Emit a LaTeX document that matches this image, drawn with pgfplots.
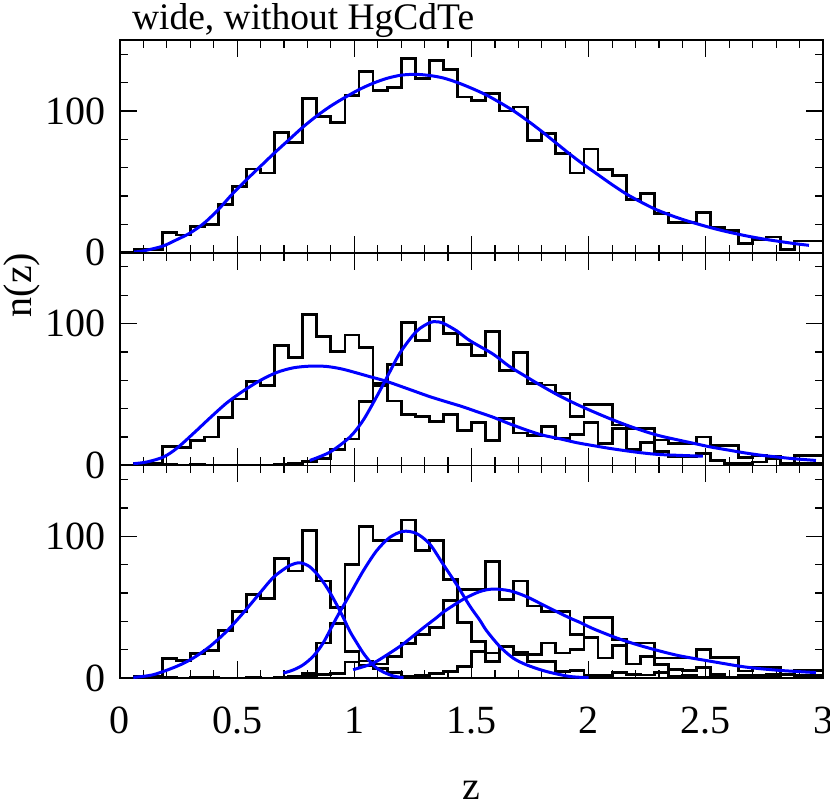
\documentclass[border=0pt]{standalone}
\usepackage{fontspec}
\setmainfont{Liberation Serif}
\usepackage{pgfplots}
\usepackage{pgfplotstable}
\pgfplotsset{compat=1.18}
\usepgfplotslibrary{groupplots}

% histogram counts, left bin edges (bin width 0.06)
% T = all, A/B = two bins, L/M/H = three bins
\pgfplotstableread{
x    T     A     B     L     M     H
0.00 0     0     0     0     0     0
0.06 2     1.5   0.5   1.5   0.3   0.2
0.12 2     1.5   0.5   1.5   0.3   0.2
0.18 14    13.5  0.5   13.7  0.3   0
0.24 12.5  12.5  0     12.5  0     0
0.30 18.4  17.7  0.7   17.2  0.8   0.4
0.36 20    20    0     19.6  0.4   0
0.42 33.8  33.8  0     33.8  0     0
0.48 46.8  46.8  0     46.8  0     0
0.54 59    59    0     58.8  0.2   0
0.60 56.2  56.2  0     56.2  0     0
0.66 85    84.5  0.5   84.5  0.5   0
0.72 77.5  76.3  1.2   75.6  1.4   0.5
0.78 109   106.3 2.7   104   3.5   1.5
0.84 96    91    5     68.5  24.8  2.7
0.90 91.7  80.3  11.4  50    38.5  3.2
0.96 110.6 92    18.6  18.9  80.3  11.4
1.02 127.8 83    44.8  12    106.8 9
1.08 114.3 57.9  56.4  7     97.3  10
1.14 116.5 45.4  71.1  4     97.3  15.2
1.20 137   36.1  100.9 1     111.5 24.5
1.26 122.6 34.3  88.3  2     89.8  30.8
1.32 135.8 31.2  104.6 3     96.9  35.9
1.38 129.2 36.1  93.1  4.7   69.7  54.8
1.44 109.8 24.8  85    8.2   39    62.6
1.50 107.5 30    77.5  18.9  26    62.6
1.56 112   17.7  94.3  11.8  17.7  82.5
1.62 100   33    67    22    22.4  55.6
1.68 102.8 22.9  79.9  17.8  16.5  68.5
1.74 79    21.3  57.7  11.7  16.5  50.8
1.80 83.9  27.2  56.7  11.9  24.8  47.2
1.86 69.7  18.9  50.8  4.8   17.7  47.2
1.92 56.2  21.7  34.5  5.5   20    30.7
1.98 73.2  30.2  43    1.9   28.8  42.5
2.04 58.6  15.4  43.2  1.9   14.2  42.5
2.10 54.3  25.8  28.5  4     23    27.3
2.16 37.3  11.3  26    2.5   10    24.8
2.22 42    16    26    2.2   15    24.8
2.28 27.9  10    17.9  4     9.7   14.2
2.34 21.3  5.9   15.4  1.2   5.9   14.2
2.40 21.3  5.9   15.4  2     5.1   14.2
2.46 28.3  8.3   20    0.7   7.6   20
2.52 17.7  3.5   14.2  0.6   2.5   14.6
2.58 15.4  1.2   14.2  0     0.8   14.6
2.64 6.6   1.2   5.4   0     1.6   5
2.70 9.4   2.4   7     0     1.8   7.6
2.76 11.1  4.7   6.4   1     2.5   7.6
2.82 2.4   1.2   1.2   0     0     2.4
2.88 8.3   1.2   7.1   1     2.1   5.2
2.94 8.3   1.2   7.1   1     2.1   5.2
3.00 8.3   1.2   7.1   1     2.1   5.2
}\hist

\newcommand{\bigfont}{\fontsize{20}{24}\selectfont}

\begin{document}
\begin{tikzpicture}
\begin{groupplot}[
  group style={group size=1 by 3, vertical sep=0pt,
               x descriptions at=edge bottom},
  width=351.5pt, height=106.35pt, scale only axis,
  xmin=0, xmax=3, ymin=0, ymax=150,
  xtick={0,0.5,1,1.5,2,2.5,3}, minor x tick num=4,
  ytick={0,100}, minor ytick={20,40,60,80,120,140},
  tick align=inside,
  major tick length=8.5pt, minor tick length=4pt,
  every tick/.style={black, line width=0.6pt},
  axis line style={line width=0.8pt},
  tick label style={font=\bigfont},
  xticklabel style={yshift=-11pt},
  yticklabel style={xshift=-3.5pt},
  /pgf/number format/assume math mode=true,
  histo/.style={const plot, black, line width=1.4pt},
  fitline/.style={blue, line width=1.5pt, smooth},
]
\nextgroupplot
\addplot[histo] table[x=x, y=T] {\hist};
\addplot[fitline] coordinates {
  (0.06,0.5) (0.10,1.3) (0.18,4.5) (0.24,9) (0.30,14) (0.36,21)
  (0.42,30.5) (0.48,41.5) (0.54,51.5) (0.60,61) (0.66,70.5) (0.72,79.5)
  (0.78,88.5) (0.84,96.5) (0.90,103.5) (0.96,109.5) (1.02,115) (1.08,119.5)
  (1.14,123) (1.20,125.2) (1.26,125.8) (1.32,125) (1.38,123.2) (1.44,120)
  (1.50,116) (1.56,111.5) (1.62,106) (1.68,100) (1.74,93) (1.80,85.5)
  (1.86,77.5) (1.92,69.5) (1.98,62) (2.04,55) (2.10,48) (2.16,41.5)
  (2.22,36) (2.28,31) (2.34,27) (2.40,23.5) (2.46,20.5) (2.52,17.7)
  (2.58,15.2) (2.64,13) (2.70,11) (2.76,9.3) (2.82,7.8) (2.88,6.4) (2.94,5.2)
};

\nextgroupplot
\addplot[histo] table[x=x, y=A] {\hist};
\addplot[histo] table[x=x, y=B] {\hist};
\addplot[fitline] coordinates {
  (0.057,1.2) (0.114,2.4) (0.185,5.9) (0.242,12) (0.313,22.5) (0.384,33.5)
  (0.455,44) (0.526,52.5) (0.597,59.8) (0.668,65.5) (0.739,68.8) (0.81,70)
  (0.88,69.8) (0.952,67.8) (1.066,62.6) (1.137,59.3) (1.237,53.5) (1.322,48.5)
  (1.40,44.5) (1.46,41.5) (1.53,37.5) (1.592,34) (1.66,29.5) (1.734,25)
  (1.80,21.5) (1.876,18.8) (1.95,16) (2.018,14) (2.09,12) (2.16,10.3)
  (2.23,8.8) (2.30,7.7) (2.40,7) (2.487,6.5)
};
\addplot[fitline] coordinates {
  (0.81,3.5) (0.896,9.4) (0.981,20) (1.038,31.9) (1.095,48.4) (1.137,61.4)
  (1.194,79.1) (1.265,94.5) (1.322,100.7) (1.35,101.3) (1.379,100.3)
  (1.436,95) (1.493,88) (1.592,78.5) (1.66,70) (1.734,62.5) (1.80,56)
  (1.876,49) (1.95,43) (2.018,38) (2.09,33) (2.16,28.5) (2.23,24.5)
  (2.30,21) (2.38,18) (2.45,15.5) (2.52,13) (2.59,11) (2.66,9) (2.73,7.3)
  (2.80,6) (2.87,4.8) (2.97,3.5)
};

\nextgroupplot
\addplot[histo] table[x=x, y=L] {\hist};
\addplot[histo] table[x=x, y=M] {\hist};
\addplot[histo] table[x=x, y=H] {\hist};
\addplot[fitline] coordinates {
  (0.057,0.5) (0.142,2.4) (0.242,8.3) (0.313,14.2) (0.384,22.4) (0.455,33)
  (0.526,46) (0.597,60) (0.64,68.5) (0.668,73) (0.725,79.5) (0.768,81.3)
  (0.81,78.5) (0.853,71) (0.89,62) (0.924,52) (0.955,42) (0.981,33)
  (1.01,25) (1.038,17.7) (1.066,11.8) (1.095,7.1) (1.13,3.8) (1.166,1.5)
  (1.21,0.2)
};
\addplot[fitline] coordinates {
  (0.697,3.5) (0.74,5.8) (0.782,9.4) (0.825,15.5) (0.867,24.8) (0.924,42.5)
  (0.981,59) (1.038,75.6) (1.095,89.8) (1.151,99.2) (1.208,103.5)
  (1.265,102) (1.322,94.5) (1.379,80.3) (1.436,66.1) (1.493,50.8)
  (1.535,41) (1.564,33.5) (1.62,22.4) (1.677,14.2) (1.734,9.4) (1.819,4.7)
  (1.918,1.2) (2.0,0.3)
};
\addplot[fitline] coordinates {
  (0.995,5.9) (1.066,9.5) (1.095,11.8) (1.15,17.5) (1.208,24) (1.294,35.4)
  (1.35,42.5) (1.379,46.5) (1.464,55.5) (1.535,61) (1.592,62.8)
  (1.663,61.6) (1.734,57.5) (1.819,50.5) (1.918,42.5) (1.96,39.5)
  (2.017,35) (2.10,29.5) (2.16,26) (2.25,21.5) (2.38,16) (2.53,11.6)
  (2.67,7.8) (2.81,5.5) (2.97,3.9)
};
\end{groupplot}
\node[font=\fontsize{18.75}{22}\selectfont, anchor=base west]
  at ([xshift=2.5pt, yshift=5.5pt]group c1r1.north west) {wide, without HgCdTe};
\node[font=\bigfont, rotate=90]
  at ([xshift=-49pt, yshift=196.5pt]group c1r3.south west) {n(z)};
\node[font=\bigfont]
  at ([xshift=175.75pt, yshift=-56pt]group c1r3.south west) {z};
\pgfresetboundingbox
\path ([xshift=-60pt, yshift=-63.5pt]group c1r3.south west)
  rectangle ([xshift=3.5pt, yshift=20pt]group c1r1.north east);
\end{tikzpicture}
\end{document}
